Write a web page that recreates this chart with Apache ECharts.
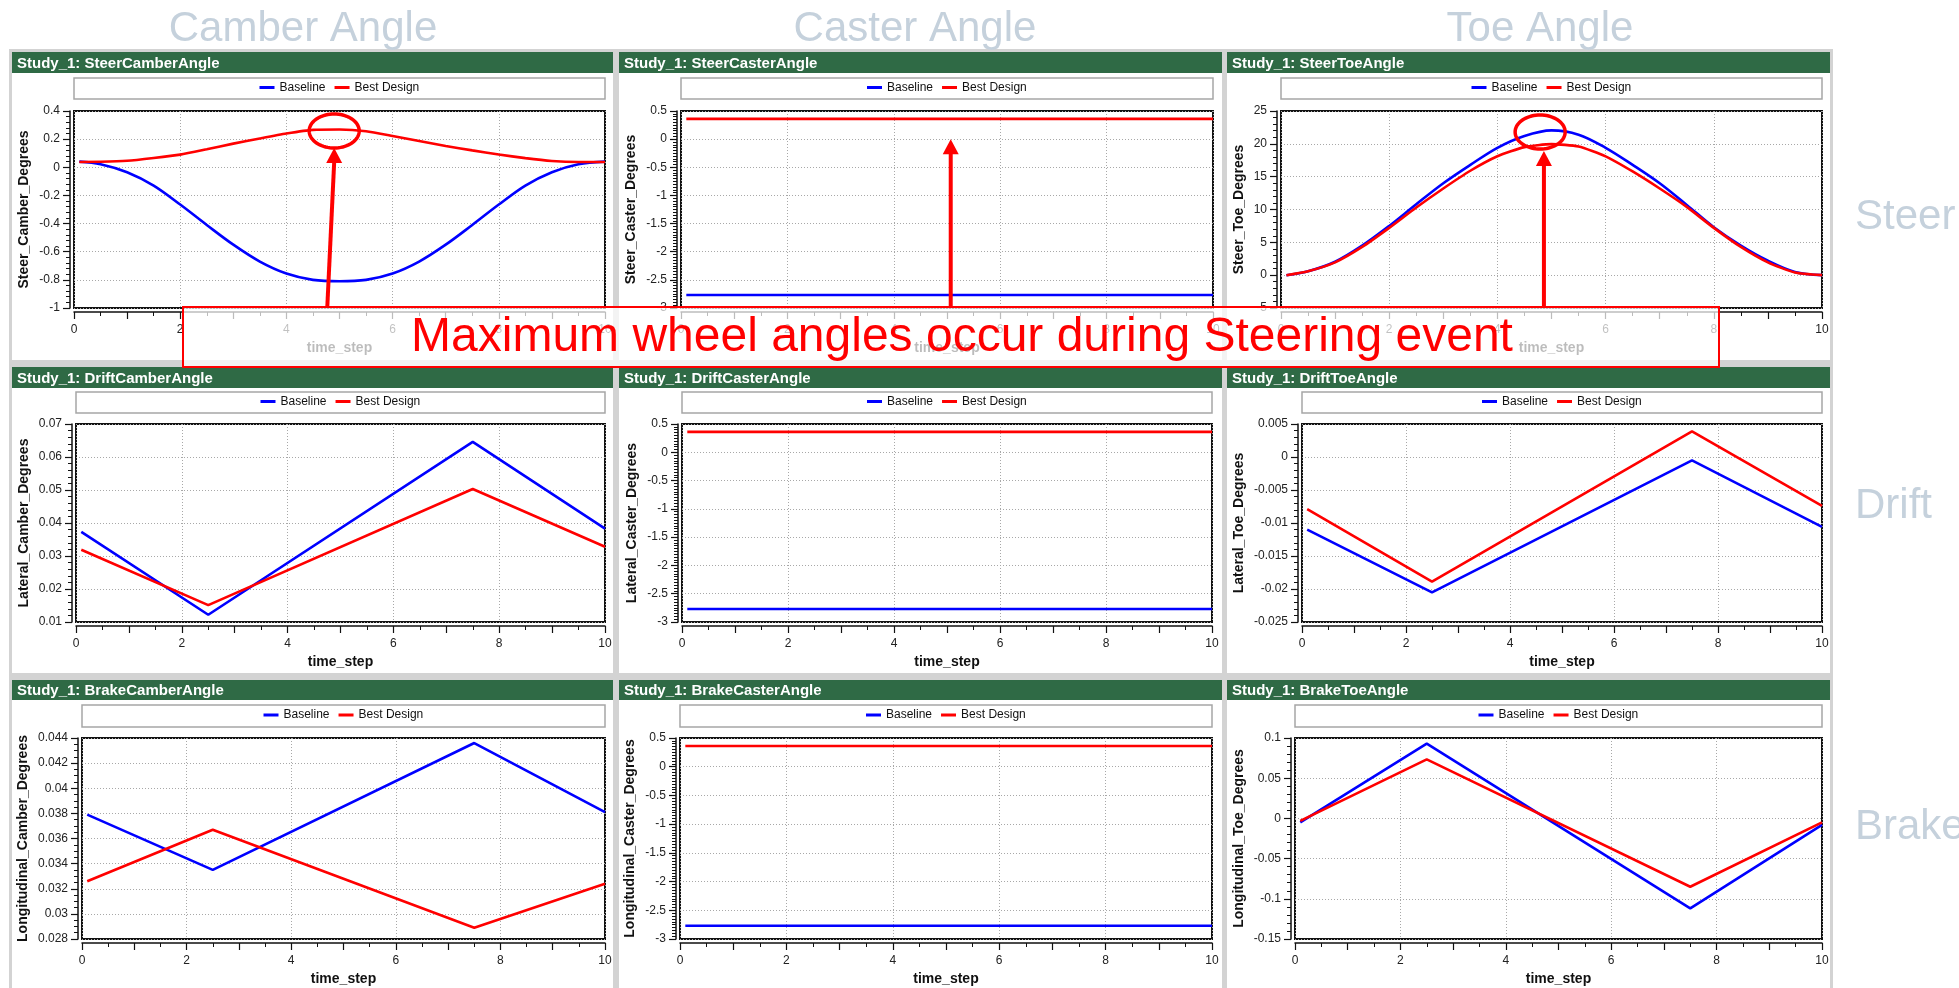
<!DOCTYPE html>
<html><head><meta charset="utf-8">
<script src="https://cdn.jsdelivr.net/npm/echarts@6/dist/echarts.min.js"></script>
<style>html,body{margin:0;padding:0;background:#fff;}#c{width:1959px;height:988px;}</style>
</head><body><div id="c"></div>
<script>
// ---------------- data ----------------
const seriesNames = ['Baseline', 'Best Design'];
const columnTitles = ['Camber Angle', 'Caster Angle', 'Toe Angle'];
const rowTitles = ['Steer', 'Drift', 'Brake'];
const annotationText = 'Maximum wheel angles occur during Steering event';
const panelTitles = ['Study_1: SteerCamberAngle', 'Study_1: SteerCasterAngle', 'Study_1: SteerToeAngle',
  'Study_1: DriftCamberAngle', 'Study_1: DriftCasterAngle', 'Study_1: DriftToeAngle',
  'Study_1: BrakeCamberAngle', 'Study_1: BrakeCasterAngle', 'Study_1: BrakeToeAngle'];
const yNames = ['Steer_Camber_Degrees', 'Steer_Caster_Degrees', 'Steer_Toe_Degrees',
  'Lateral_Camber_Degrees', 'Lateral_Caster_Degrees', 'Lateral_Toe_Degrees',
  'Longitudinal_Camber_Degrees', 'Longitudinal_Caster_Degrees', 'Longitudinal_Toe_Degrees'];
const xName = 'time_step';
const xTicks = [0, 2, 4, 6, 8, 10];

const timeSmooth = [0.1, 0.5, 1, 1.5, 2, 2.5, 3, 3.5, 4, 4.5, 5, 5.5, 6, 6.5, 7, 7.5, 8, 8.5, 9, 9.5, 10];
const timeKink = [0.1, 2.5, 7.5, 10];
const timeFlat = [0.1, 10];

const steerCamberTicks = [-1, -0.8, -0.6, -0.4, -0.2, 0, 0.2, 0.4];
const steerCamberBaseline = [0.04, 0.022, -0.035, -0.13, -0.265, -0.41, -0.55, -0.67, -0.755, -0.8, -0.81, -0.8, -0.755, -0.67, -0.55, -0.41, -0.265, -0.13, -0.035, 0.022, 0.04];
const steerCamberBest = [0.038, 0.039, 0.046, 0.066, 0.09, 0.128, 0.168, 0.205, 0.24, 0.266, 0.268, 0.256, 0.223, 0.187, 0.151, 0.12, 0.091, 0.065, 0.045, 0.038, 0.038];

const casterTicks = [-3, -2.5, -2, -1.5, -1, -0.5, 0, 0.5];
const steerCasterBaseline = [-2.77, -2.77];
const steerCasterBest = [0.36, 0.36];

const steerToeTicks = [-5, 0, 5, 10, 15, 20, 25];
const steerToeBaseline = [0, 0.6, 2.05, 4.5, 7.5, 10.8, 14.0, 16.8, 19.4, 21.2, 22.05, 21.4, 19.4, 16.8, 14.0, 10.7, 7.3, 4.5, 2.2, 0.5, 0];
const steerToeBest = [0, 0.6, 1.95, 4.3, 7.2, 10.3, 13.2, 15.9, 18.1, 19.5, 19.95, 19.6, 18.1, 15.8, 13.2, 10.4, 7.2, 4.3, 1.95, 0.4, 0];

const driftCamberTicks = [0.01, 0.02, 0.03, 0.04, 0.05, 0.06, 0.07];
const driftCamberBaseline = [0.0373, 0.0122, 0.0646, 0.0383];
const driftCamberBest = [0.0319, 0.0151, 0.0503, 0.0328];

const driftCasterBaseline = [-2.77, -2.77];
const driftCasterBest = [0.36, 0.36];

const driftToeTicks = [-0.025, -0.02, -0.015, -0.01, -0.005, 0, 0.005];
const driftToeBaseline = [-0.011, -0.0205, -0.0005, -0.0106];
const driftToeBest = [-0.0079, -0.0189, 0.0039, -0.0074];

const brakeCamberTicks = [0.028, 0.03, 0.032, 0.034, 0.036, 0.038, 0.04, 0.042, 0.044];
const brakeCamberBaseline = [0.0379, 0.0335, 0.0436, 0.0381];
const brakeCamberBest = [0.0326, 0.0367, 0.0289, 0.0324];

const brakeCasterBaseline = [-2.77, -2.77];
const brakeCasterBest = [0.36, 0.36];

const brakeToeTicks = [-0.15, -0.1, -0.05, 0, 0.05, 0.1];
const brakeToeBaseline = [-0.005, 0.093, -0.112, -0.008];
const brakeToeBest = [-0.003, 0.0735, -0.085, -0.005];

// annotation anchor points in data units (panel index, x, y)
const highlightEllipses = [[0, 4.9, 0.258], [2, 4.79, 21.8]];
const arrowTips = [[0, 4.9, 0.137, 4.77], [1, 5.07, 0.0, 5.07], [2, 4.86, 18.9, 4.86]];

// ---------------- panel setup ----------------
const panelData = [
  [timeSmooth, steerCamberBaseline, steerCamberBest, steerCamberTicks, 5, true],
  [timeFlat, steerCasterBaseline, steerCasterBest, casterTicks, 10, false],
  [timeSmooth, steerToeBaseline, steerToeBest, steerToeTicks, 5, true],
  [timeKink, driftCamberBaseline, driftCamberBest, driftCamberTicks, 5, false],
  [timeFlat, driftCasterBaseline, driftCasterBest, casterTicks, 10, false],
  [timeKink, driftToeBaseline, driftToeBest, driftToeTicks, 5, false],
  [timeKink, brakeCamberBaseline, brakeCamberBest, brakeCamberTicks, 4, false],
  [timeFlat, brakeCasterBaseline, brakeCasterBest, casterTicks, 10, false],
  [timeKink, brakeToeBaseline, brakeToeBest, brakeToeTicks, 5, false]
];

// layout (pixels)
const colX = [[12, 613], [619, 1222], [1227, 1830]];
const headerY = [[52, 73], [367, 388], [680, 700]];
const bodyBottom = [360, 673, 988];
const legendY = [[78, 99], [392, 413], [705, 727]];
const plotY = [[111, 308], [424, 622], [738, 939]];
const plotX = [
  [[74, 605], [681, 1213], [1281, 1822]],
  [[76, 605], [682, 1212], [1302, 1822]],
  [[82, 605], [680, 1212], [1295, 1822]]
];
const yNameCX = [[23.7, 631.5, 1239], [23.7, 631.7, 1239], [23, 630.6, 1239]];

const FONT = '"Liberation Sans", Arial, sans-serif';
const BLUE = '#0000ff', RED = '#ff0000';
const fmt = v => String(parseFloat(Number(v).toFixed(6)));

const grids = [], xAxes = [], yAxes = [], series = [], legends = [], bg = [];

bg.push({type: 'rect', z: -10, shape: {x: 9, y: 49, width: 1824, height: 939}, style: {fill: '#d3d3d3'}});

panelData.forEach((p, i) => {
  const r = Math.floor(i / 3), c = i % 3;
  const [t, base, best, ticks, minorSplit, smooth] = p;
  const [px0, px1] = plotX[r][c];
  const [py0, py1] = plotY[r];
  grids.push({left: px0, top: py0, width: px1 - px0, height: py1 - py0, show: true,
    borderColor: '#111', borderWidth: 2, backgroundColor: 'transparent', containLabel: false, outerBoundsMode: 'none'});
  xAxes.push({
    gridIndex: i, type: 'value', min: xTicks[0], max: xTicks[xTicks.length - 1], interval: 1, offset: 4,
    name: xName, nameLocation: 'middle', nameGap: 29,
    nameTextStyle: {fontFamily: FONT, fontWeight: 'bold', fontSize: 14, color: '#111'},
    axisLine: {onZero: false, lineStyle: {color: '#111', width: 1.5}},
    axisTick: {length: 7, lineStyle: {color: '#111', width: 1.2}},
    minorTick: {show: true, splitNumber: 2, length: 4, lineStyle: {color: '#111', width: 1}},
    axisLabel: {fontFamily: FONT, fontSize: 12, color: '#222', margin: 12,
      formatter: v => (xTicks.indexOf(Math.round(v)) >= 0 ? String(Math.round(v)) : '')},
    splitLine: {show: false}
  });
  xAxes.push({
    gridIndex: i, type: 'value', min: xTicks[0], max: xTicks[xTicks.length - 1], interval: xTicks[1] - xTicks[0],
    position: 'bottom', axisLine: {show: false, onZero: false}, axisTick: {show: false}, axisLabel: {show: false},
    splitLine: {show: true, lineStyle: {color: '#a8a8a8', width: 1, type: [1, 2]}}
  });
  const yMin = ticks[0], yMax = ticks[ticks.length - 1];
  const step = parseFloat((ticks[1] - ticks[0]).toFixed(6));
  yAxes.push({
    gridIndex: i, type: 'value', min: yMin, max: yMax, interval: step, offset: 4,
    name: yNames[i], nameLocation: 'middle', nameRotate: 90,
    nameGap: (px0 - 4) - yNameCX[r][c] - 7,
    nameTextStyle: {fontFamily: FONT, fontWeight: 'bold', fontSize: 14, color: '#111'},
    axisLine: {onZero: false, lineStyle: {color: '#111', width: 1.5}},
    axisTick: {length: 7, lineStyle: {color: '#111', width: 1.2}},
    minorTick: {show: true, splitNumber: minorSplit, length: 4, lineStyle: {color: '#111', width: 1}},
    axisLabel: {fontFamily: FONT, fontSize: 12, color: '#222', margin: 10, formatter: fmt},
    splitLine: {show: true, lineStyle: {color: '#a8a8a8', width: 1, type: [1, 2]}}
  });
  [[seriesNames[0], base, BLUE, smooth ? 0.35 : false], [seriesNames[1], best, RED, smooth ? 0.2 : false]].forEach(s => {
    series.push({
      type: 'line', name: s[0], xAxisIndex: 2 * i, yAxisIndex: i,
      data: t.map((tv, k) => [tv, s[1][k]]), smooth: s[3], showSymbol: false, symbol: 'none',
      lineStyle: {color: s[2], width: 2.6}, itemStyle: {color: s[2]}, z: 3, animation: false
    });
  });
  const lcx = (px0 + px1) / 2, lcy = (legendY[r][0] + legendY[r][1]) / 2;
  legends.push({
    data: seriesNames, left: lcx - 80, top: lcy - 7, padding: 0, icon: 'rect', itemWidth: 15, itemHeight: 3,
    itemGap: 9, selectedMode: false, textStyle: {fontFamily: FONT, fontSize: 12, color: '#111'}
  });
  const [cx0, cx1] = colX[c];
  bg.push({type: 'rect', z: -9, shape: {x: cx0, y: headerY[r][1], width: cx1 - cx0, height: bodyBottom[r] - headerY[r][1]}, style: {fill: '#ffffff'}});
  bg.push({type: 'rect', z: -9, shape: {x: cx0, y: headerY[r][0], width: cx1 - cx0, height: headerY[r][1] - headerY[r][0]}, style: {fill: '#2f6a45'}});
  bg.push({type: 'text', z: -8, x: cx0 + 5, y: (headerY[r][0] + headerY[r][1]) / 2 + 1,
    style: {text: panelTitles[i], fill: '#ffffff', font: 'bold 15px ' + FONT, align: 'left', verticalAlign: 'middle'}});
  bg.push({type: 'rect', z: -8, shape: {x: px0, y: legendY[r][0], width: px1 - px0, height: legendY[r][1] - legendY[r][0]},
    style: {fill: '#ffffff', stroke: '#a6a6a6', lineWidth: 1.5}});
});

const titleColor = '#c5d1dc';
const colTitleCX = [303, 915, 1540];
columnTitles.forEach((tt, c) => bg.push({type: 'text', z: -8, x: colTitleCX[c], y: 29,
  style: {text: tt, fill: titleColor, font: '42px ' + FONT, align: 'center', verticalAlign: 'middle'}}));
const rowTitleCY = [217, 506, 827];
rowTitles.forEach((tt, r) => bg.push({type: 'text', z: -8, x: 1855, y: rowTitleCY[r],
  style: {text: tt, fill: titleColor, font: '42px ' + FONT, align: 'left', verticalAlign: 'middle'}}));

const chart = echarts.init(document.getElementById('c'), null, {renderer: 'canvas'});
chart.setOption({
  animation: false,
  backgroundColor: '#ffffff',
  textStyle: {fontFamily: FONT},
  grid: grids, xAxis: xAxes, yAxis: yAxes, series: series, legend: legends,
  graphic: {elements: bg}
});

// ---------------- annotation overlay ----------------
const boxTop = 307, boxBottom = 367, boxLeft = 183, boxRight = 1719;
const over = [];
over.push({type: 'rect', z: 50, shape: {x: boxLeft, y: boxTop, width: boxRight - boxLeft, height: boxBottom - boxTop},
  style: {fill: 'rgba(255,255,255,0.72)', stroke: RED, lineWidth: 2}});
over.push({type: 'text', z: 51, x: 962, y: 338,
  style: {text: annotationText, fill: RED, font: '48px ' + FONT, align: 'center', verticalAlign: 'middle'}});
const toPx = (i, x, y) => chart.convertToPixel({xAxisIndex: 2 * i, yAxisIndex: i}, [x, y]);
highlightEllipses.forEach(e => {
  const p = toPx(e[0], e[1], e[2]);
  const pts = [];
  for (let k = 0; k < 72; k++) {
    const a = k / 72 * Math.PI * 2;
    pts.push([p[0] + 25 * Math.cos(a), p[1] + 17 * Math.sin(a)]);
  }
  over.push({type: 'polygon', z: 52, shape: {points: pts}, style: {fill: null, stroke: RED, lineWidth: 3.5}});
});
arrowTips.forEach(a => {
  const tip = toPx(a[0], a[1], a[2]);
  const tail = toPx(a[0], a[3], a[2]);
  const headH = 15, headW = 8;
  over.push({type: 'line', z: 52, shape: {x1: tail[0], y1: boxTop, x2: tip[0], y2: tip[1] + headH - 1},
    style: {stroke: RED, lineWidth: 4}});
  over.push({type: 'polygon', z: 52, shape: {points: [[tip[0], tip[1]], [tip[0] - headW, tip[1] + headH], [tip[0] + headW, tip[1] + headH]]},
    style: {fill: RED}});
});
chart.setOption({graphic: {elements: bg.concat(over)}});
</script></body></html>
